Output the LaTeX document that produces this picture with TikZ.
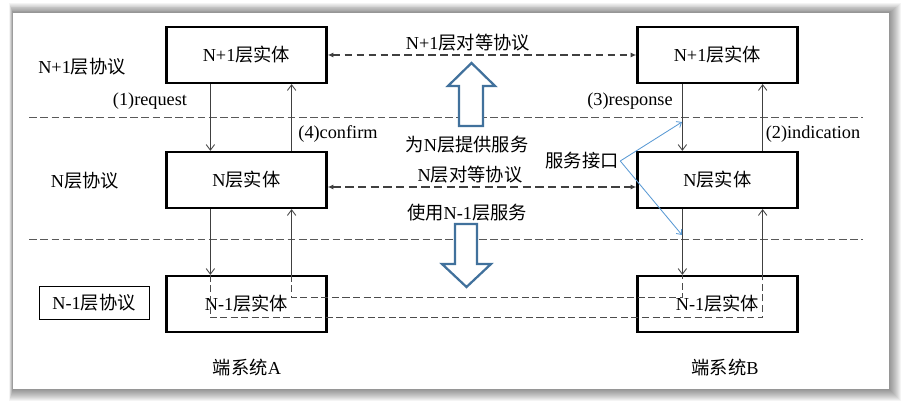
\documentclass[tikz,border=0pt]{standalone}
\usepackage{fontspec}
\setmainfont{Liberation Serif}
\newfontfamily\zhfont{Noto Sans CJK SC}
\newcommand{\zh}[1]{{\zhfont #1}}
\usetikzlibrary{arrows.meta,calc}
\definecolor{sapblue}{HTML}{5B9BD5}
\definecolor{svcblue}{HTML}{41719C}

\begin{document}
\begin{tikzpicture}[x=0.025cm, y=-0.025cm, >={Straight Barb[length=4pt,width=6pt]},
  every node/.style={font=\fontsize{13}{15}\selectfont, inner sep=1pt},
  entity/.style={draw, line width=1.6pt, fill=white, minimum width=4cm, minimum height=1.4cm},
  layer/.style={draw, line width=0.6pt, minimum width=2.75cm, minimum height=0.82cm},
  sep/.style={draw=black!65, line width=0.5pt, dash pattern=on 5.5pt off 2.5pt},
  peer/.style={draw=black!75, line width=0.8pt, dash pattern=on 5.5pt off 3pt, {Latex[length=4pt,width=3.5pt]}-{Latex[length=4pt,width=3.5pt]}},
  prim/.style={->, draw=black!75, line width=0.6pt},
  phys/.style={draw=black!70, line width=0.6pt, dash pattern=on 5pt off 2.5pt},
  bigarrow/.style={draw=svcblue, line width=1.6pt, fill=white, line join=miter},
  sap/.style={draw=sapblue, line width=0.6pt, -{Straight Barb[length=3pt,width=5pt]}}]
\useasboundingbox (0,0) rectangle (911,411);
% page and its shadow:
\foreach \i in {1,...,12}
  \fill[black, opacity=0.045] (13-\i*0.3,13-\i*0.8) rectangle (889+\i,389+\i);
\fill[white] (13,13) rectangle (889,389);
% layer separators:
\draw[sep] (29,117) -- (863,117);
\draw[sep] (29,239) -- (863,239);
% layer names:
\node (lplus) at (82,67) {N+1\zh{层协议}};
\node (ln) at (85,181) {N\zh{层协议}};
\node (lminus) at (94,303) [layer] {N-1\zh{层协议}};
% entities of end system A:
\node (nplusA) at (246.5,55) [entity] {N+1\zh{层实体}};
\node (nA) at (246.5,180) [entity] {N\zh{层实体}};
\node (nminusA) at (246.5,304) [entity] {N-1\zh{层实体}};
% entities of end system B:
\node (nplusB) at (717.5,55) [entity] {N+1\zh{层实体}};
\node (nB) at (717.5,180) [entity] {N\zh{层实体}};
\node (nminusB) at (717.5,304) [entity] {N-1\zh{层实体}};
% primitives, A:
\draw[prim] ($(nplusA.south west)+(45,0)$) -- ($(nA.north west)+(45,0)$);
\draw[prim] ($(nA.north east)+(-36,0)$) -- ($(nplusA.south east)+(-36,0)$);
\draw[prim] ($(nA.south west)+(45,0)$) -- ($(nminusA.north west)+(45,0)$);
\draw[prim] ($(nminusA.north east)+(-36,0)$) -- ($(nA.south east)+(-36,0)$);
% primitives, B:
\draw[prim] ($(nplusB.south west)+(46,0)$) -- ($(nB.north west)+(46,0)$);
\draw[prim] ($(nB.north east)+(-36,0)$) -- ($(nplusB.south east)+(-36,0)$);
\draw[prim] ($(nB.south west)+(46,0)$) -- ($(nminusB.north west)+(46,0)$);
\draw[prim] ($(nminusB.north east)+(-36,0)$) -- ($(nB.south east)+(-36,0)$);
\node (req) at (150,101) {(1)request};
\node (conf) at (338,134) {(4)confirm};
\node (resp) at (630,101) {(3)response};
\node (ind) at (813,134) {(2)indication};
% peer protocols:
\draw[peer] (nplusA.east) -- (nplusB.west);
\draw[peer, line width=1.5pt, dash pattern=on 6pt off 3pt] ($(nA.east)+(0,7)$) -- ($(nB.west)+(0,7)$);
\node (ppeer) at (468,43) {N+1\zh{层对等协议}};
\node (npeer) at (470,175) {N\zh{层对等协议}};
% path through the lower layer:
\draw[phys] ($(nminusA.north west)+(45,0)$) -- ++(0,43) -| ($(nminusB.north east)+(-36,0)$);
\draw[phys] ($(nminusA.north east)+(-36,0)$) -- ++(0,23) -| ($(nminusB.north west)+(46,0)$);
% services:
\draw[bigarrow] (459,126) -- (459,86) -- (448,86) -- (471.5,63) -- (495,86) -- (483,86) -- (483,126) -- cycle;
\draw[bigarrow] (455,224) -- (477,224) -- (477,264) -- (491,264) -- (466.5,287) -- (442,264) -- (455,264) -- cycle;
\node (give) at (467,145) {\zh{为}N\zh{层提供服务}};
\node (use) at (467,213) {\zh{使用}N-1\zh{层服务}};
% service access points:
\node (iface) at (582,161) {\zh{服务接口}};
\coordinate (sapUp) at (682,122);
\coordinate (sapDown) at (682,235);
\draw[sap] (iface.east) -- (sapUp);
\draw[sap] (iface.east) -- (sapDown);
% end systems:
\node (sysA) at (247,368) {\zh{端系统}A};
\node (sysB) at (725,368) {\zh{端系统}B};
\end{tikzpicture}
\end{document}
